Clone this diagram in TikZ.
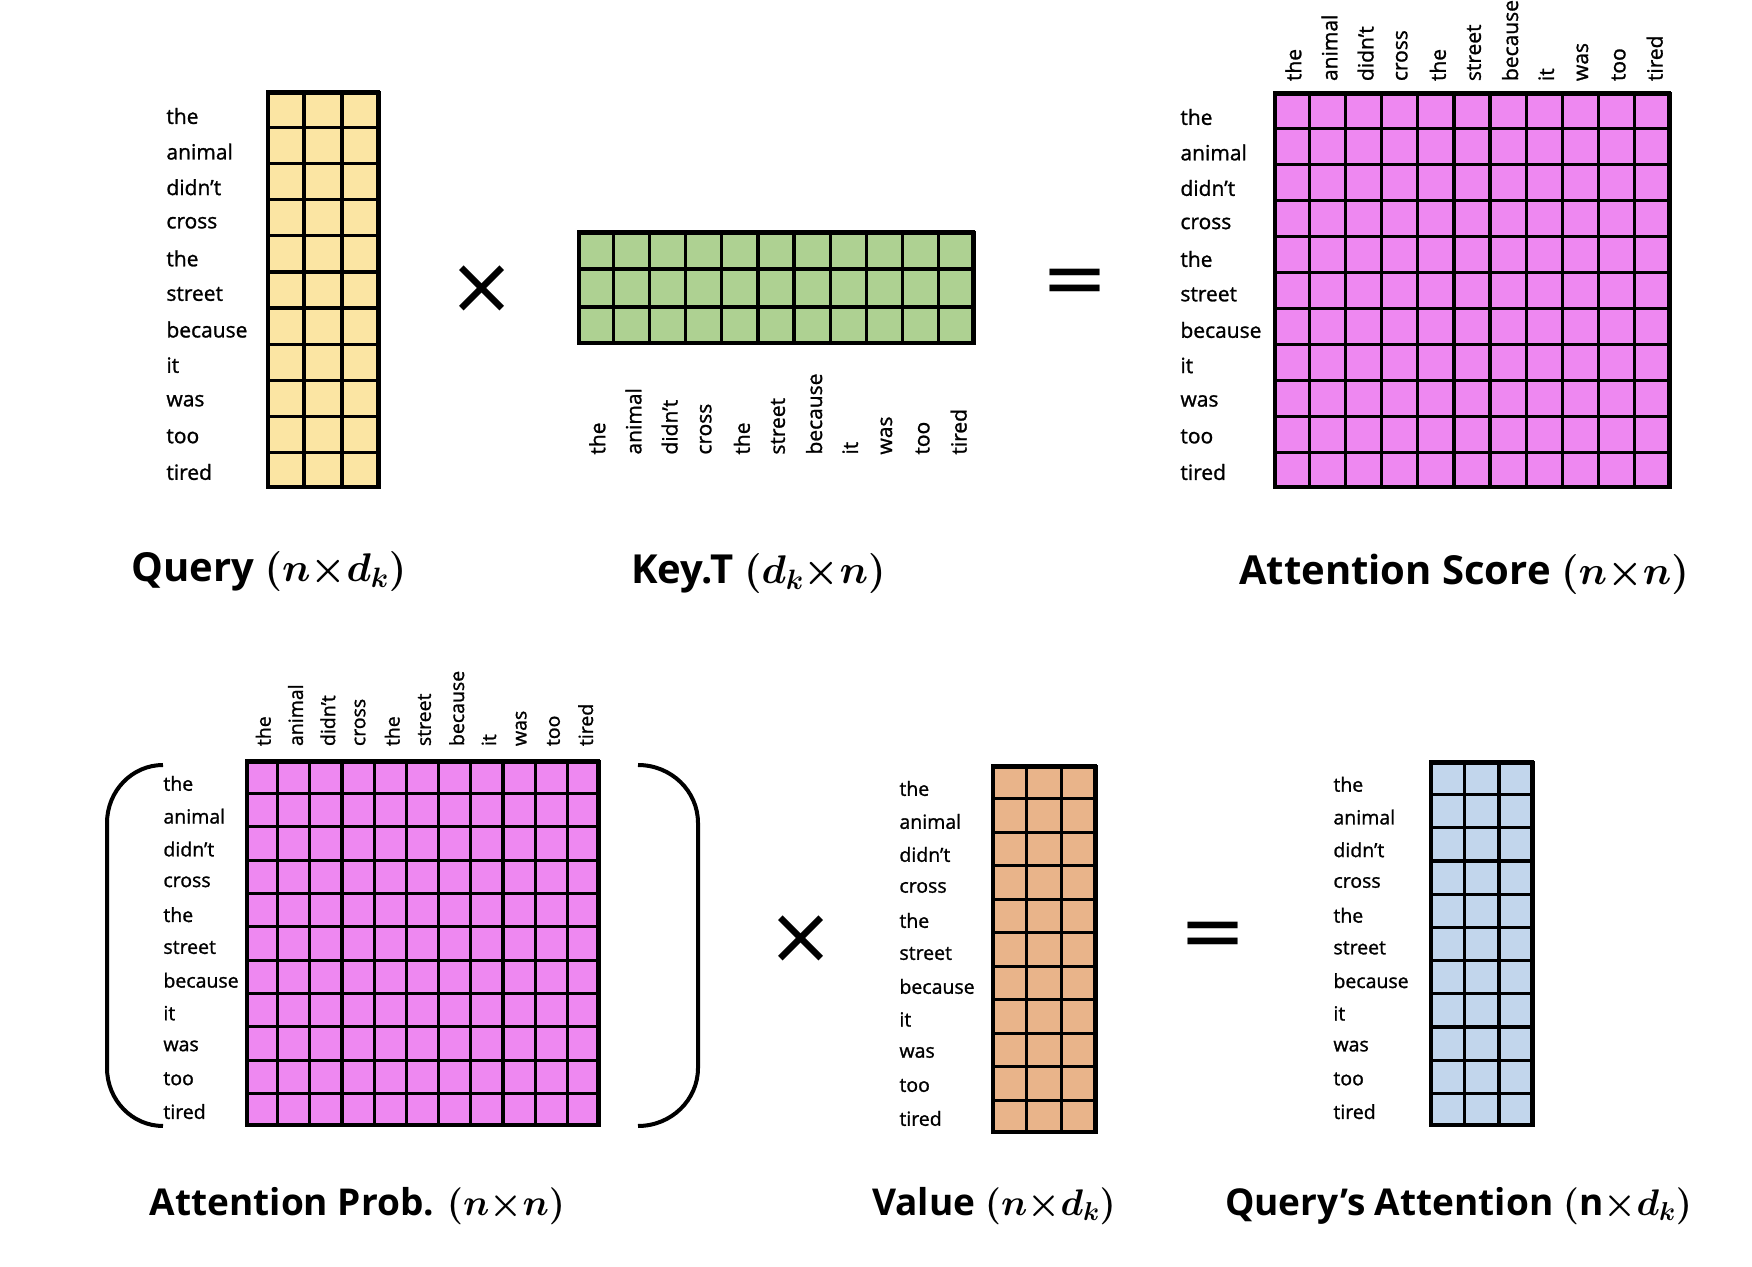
\RequirePackage{fix-cm}
\documentclass[tikz,border=0pt]{standalone}
\usepackage{amsmath}
\usepackage{fontspec}
\setmainfont{Open Sans}
\newfontfamily\wordfont{Open Sans}[FakeBold=1.2]
\newfontfamily\symfont{DejaVu Sans}
\usetikzlibrary{calc}

\definecolor{qcol}{RGB}{251,229,163}
\definecolor{kcol}{RGB}{174,209,146}
\definecolor{scol}{RGB}{238,136,241}
\definecolor{vcol}{RGB}{233,180,138}
\definecolor{acol}{RGB}{194,214,236}

\newcommand{\wordlist}{the,animal,didn’t,cross,the,street,because,it,was,too,tired}

% words along the rows, left of a matrix
\newcommand{\rowwords}[2]{%
  \foreach \w [count=\i] in \wordlist
    \node[word,anchor=west] (#1-r\i) at ($(#1.north west)!{0.5+((\i-0.5)/11-0.5)*0.985}!(#1.south west)+(#2,-4)$) {\w};}
% rotated words along the columns
\newcommand{\colwords}[3]{%
  \foreach \w [count=\i] in \wordlist
    \node[word,anchor=west,rotate=90] (#1-c\i) at ($(#1.#2 west)!{(\i-0.5)/11}!(#1.#2 east)+(2,#3)$) {\w};}
% cell lines inside a matrix box
\newcommand{\cellgrid}[3]{%
  \foreach \k in {1,...,#2}
    \draw[cellline] ($(#1.south west)!{\k/#2}!(#1.south east)$) -- ($(#1.north west)!{\k/#2}!(#1.north east)$);
  \foreach \k in {1,...,#3}
    \draw[cellline] ($(#1.south west)!{\k/#3}!(#1.north west)$) -- ($(#1.south east)!{\k/#3}!(#1.north east)$);}

\begin{document}
\begin{tikzpicture}[x=1pt,y=1pt,
    word/.style={font=\wordfont\fontsize{21}{24}\selectfont,inner sep=0pt},
    mtx/.style={draw,line width=3.5pt,inner sep=0pt},
    cellline/.style={line width=3.2pt},
    ttl/.style={font=\fontsize{40}{48}\selectfont\bfseries,inner sep=0pt},
    oper/.style={font=\fontsize{80}{90}\symfont,inner sep=0pt},
    bracket/.style={line width=4pt}]
  \useasboundingbox (0,0) rectangle (1752,1266);

  % first row: Q x K^T = score
  \node[mtx,fill=qcol,minimum width=110,minimum height=394] (query) at (323,976) {};
  \node[mtx,fill=kcol,minimum width=394,minimum height=110] (key) at (776,978) {};
  \node[mtx,fill=scol,minimum width=394,minimum height=393] (score) at (1472,975.5) {};
  \cellgrid{query}{3}{11}
  \cellgrid{key}{11}{3}
  \cellgrid{score}{11}{11}
  \rowwords{query}{-100}
  \colwords{key}{south}{-110}
  \rowwords{score}{-93}
  \colwords{score}{north}{11}

  \node[oper] (times1) at (482.5,976.5) {×};
  \node[oper] (eq1) at (1074.5,978.5) {=};

  \node[ttl] (tq) at (269,694) {Query $\boldsymbol{(n{\times}d_k)}$};
  \node[ttl] (tk) at (758.5,692) {Key.T $\boldsymbol{(d_k{\times}n)}$};
  \node[ttl] (ts) at (1464,692) {Attention Score $\boldsymbol{(n{\times}n)}$};

  % second row: softmax(score) x V = output
  \begin{scope}[word/.style={font=\wordfont\fontsize{19.5}{22}\selectfont,inner sep=0pt},
      ttl/.style={font=\fontsize{37}{44}\selectfont\bfseries,inner sep=0pt}]
  \node[mtx,fill=scol,minimum width=351,minimum height=363] (prob) at (422.5,322.5) {};
  \node[mtx,fill=vcol,minimum width=102,minimum height=365] (value) at (1044,316.5) {};
  \node[mtx,fill=acol,minimum width=101,minimum height=362] (res) at (1481.5,322) {};
  \cellgrid{prob}{11}{11}
  \cellgrid{value}{3}{11}
  \cellgrid{res}{3}{11}
  \rowwords{prob}{-82}
  \colwords{prob}{north}{14}
  \rowwords{value}{-92}
  \rowwords{res}{-96}

  \draw[bracket] (163,501) arc[start angle=90,end angle=180,x radius=56,y radius=58]
    -- (107,198) arc[start angle=180,end angle=270,x radius=56,y radius=58];
  \draw[bracket] (638,501) arc[start angle=90,end angle=0,x radius=60,y radius=58]
    -- (698,198) arc[start angle=0,end angle=-90,x radius=60,y radius=58];

  \node[oper] (times2) at (801.5,326) {×};
  \node[oper] (eq2) at (1213,326) {=};

  \node[ttl] (tp) at (357.5,60) {Attention Prob. $\boldsymbol{(n{\times}n)}$};
  \node[ttl] (tv) at (994,60) {Value $\boldsymbol{(n{\times}d_k)}$};
  \node[ttl] (ta) at (1458.5,60) {Query’s Attention $\boldsymbol{(}\mathbf{n}\boldsymbol{{\times}d_k)}$};
  \end{scope}
\end{tikzpicture}
\end{document}
